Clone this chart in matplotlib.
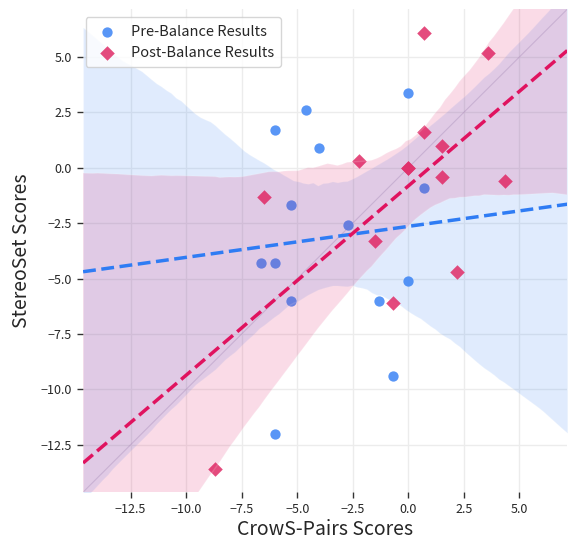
import numpy as np
import pandas as pd
import matplotlib
matplotlib.use("Agg")
import matplotlib.pyplot as plt
import seaborn as sns

# CrowS-Pairs vs StereoSet scores
pre_crows = [-6.0, -4.6, -4.0, 0.0, -5.3, 0.7, -2.7, -6.65, -6.0, -5.3, 0.0, -1.3, -0.7, -6.0]
pre_stereo = [1.7, 2.6, 0.9, 3.4, -1.7, -0.9, -2.6, -4.3, -4.3, -6.0, -5.1, -6.0, -9.4, -12.0]

post_crows = [0.7, 3.6, -2.2, 0.7, 1.5, 0.0, 0.0, 1.5, 4.35, -6.5, -1.5, 2.2, -0.7, -8.7]
post_stereo = [6.1, 5.2, 0.3, 1.6, 1.0, 0.0, 0.0, -0.4, -0.6, -1.3, -3.3, -4.7, -6.1, -13.6]

x_ticks = [-12.5, -10.0, -7.5, -5.0, -2.5, 0.0, 2.5, 5.0]
y_ticks = [-12.5, -10.0, -7.5, -5.0, -2.5, 0.0, 2.5, 5.0]
lims = (-14.64, 7.16)

sns.set_style("whitegrid")
plt.rcParams['font.family'] = ['Noto Sans CJK JP', 'DejaVu Sans']

pre = pd.DataFrame({'crows': pre_crows, 'stereo': pre_stereo})
post = pd.DataFrame({'crows': post_crows, 'stereo': post_stereo})

fig = plt.figure(figsize=(5.73, 5.42), dpi=100)
ax = fig.add_axes([0.145, 0.092, 0.845, 0.891])
ax.set_xlim(lims)
ax.set_ylim(lims)

# y = x reference
ax.plot(lims, lims, color='#9a88aa', lw=0.8, alpha=0.3, zorder=1)

sns.regplot(data=pre, x='crows', y='stereo', ax=ax, color='#5090f6',
            marker='o', seed=3, truncate=False,
            scatter_kws={'s': 55, 'alpha': 0.95, 'linewidths': 0},
            line_kws={'color': '#2f7cf4', 'ls': '--', 'lw': 2.5},
            label='Pre-Balance Results')
sns.regplot(data=post, x='crows', y='stereo', ax=ax, color='#e1376f',
            marker='D', seed=5, truncate=False,
            scatter_kws={'s': 55, 'alpha': 0.9, 'linewidths': 0},
            line_kws={'color': '#e0135f', 'ls': '--', 'lw': 2.5},
            label='Post-Balance Results')

ax.set_xlim(lims)
ax.set_ylim(lims)
ax.set_xticks(x_ticks)
ax.set_yticks(y_ticks)
ax.tick_params(axis='both', labelsize=9, length=4, width=1, color='#333333',
               left=True, bottom=True, pad=4)
ax.grid(color='#ececec', lw=1)
for s in ax.spines.values():
    s.set_visible(False)

ax.set_xlabel('CrowS-Pairs Scores', fontsize=14, labelpad=2)
ax.set_ylabel('StereoSet Scores', fontsize=14, labelpad=6)

ax.legend(loc='upper left', fontsize=10.5, frameon=True, borderpad=0.5,
          handletextpad=0.6, borderaxespad=0,
          bbox_to_anchor=(0.005, 0.983))

fig.savefig('out.png', dpi=100)
